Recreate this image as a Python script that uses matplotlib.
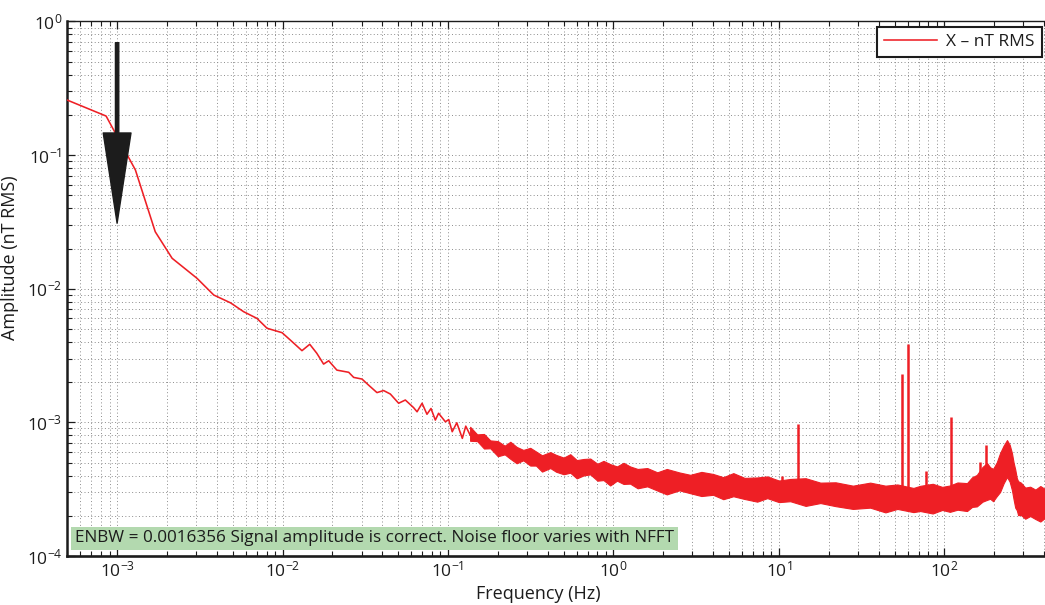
import matplotlib
matplotlib.use("Agg")
import matplotlib.pyplot as plt
import matplotlib.ticker as mticker
import numpy as np

# ---- spectrum data -------------------------------------------------------
# low-frequency part of the amplitude spectrum (Hz, nT RMS)
trace_freq = [5.0e-4, 8.58e-4, 1.29e-3, 1.70e-3, 2.15e-3, 3.04e-3, 3.84e-3,
              4.84e-3, 5.82e-3, 7.0e-3, 8.06e-3, 9.93e-3, 1.114e-2, 1.31e-2,
              1.46e-2, 1.61e-2, 1.77e-2, 1.90e-2, 2.13e-2, 2.51e-2, 2.69e-2,
              3.02e-2, 3.31e-2, 3.72e-2, 4.08e-2, 4.48e-2, 5.03e-2, 5.52e-2,
              6.19e-2, 6.50e-2, 6.97e-2, 7.46e-2, 7.89e-2, 8.38e-2, 8.77e-2,
              9.64e-2, 0.101, 0.106, 0.113, 0.122, 0.128, 0.136, 0.150, 0.164]
trace_amp = [0.258, 0.196, 0.0774, 0.0267, 0.0169, 0.01197, 8.97e-3,
             7.85e-3, 6.73e-3, 6.0e-3, 5.06e-3, 4.69e-3, 4.13e-3, 3.44e-3,
             3.84e-3, 3.29e-3, 2.73e-3, 2.89e-3, 2.46e-3, 2.37e-3, 2.17e-3,
             2.11e-3, 1.90e-3, 1.67e-3, 1.73e-3, 1.63e-3, 1.39e-3, 1.47e-3,
             1.29e-3, 1.20e-3, 1.39e-3, 1.15e-3, 1.27e-3, 1.04e-3, 1.17e-3,
             1.01e-3, 1.05e-3, 8.51e-4, 9.93e-4, 7.59e-4, 9.37e-4, 8.04e-4,
             7.80e-4, 7.16e-4]

# noise floor at higher frequencies: lower / upper extent of the trace (Hz, 1e-4 nT RMS)
band_freq = [0.136, 0.15, 0.165, 0.18, 0.2, 0.22, 0.238, 0.26, 0.285, 0.314,
             0.34, 0.37, 0.415, 0.45, 0.5, 0.548, 0.6, 0.66, 0.724, 0.8,
             0.87, 0.955, 1.05, 1.15, 1.26, 1.4, 1.6, 1.84, 2.1, 2.5,
             2.91, 3.4, 4.0, 4.61, 5.3, 6.2, 7.39, 8.5, 10.0, 11.7,
             14.5, 17.8, 22, 28, 35.6, 44, 52, 65, 71.4, 85,
             97, 108, 120, 137, 147, 157, 170, 181, 189, 197,
             207, 217, 228, 239, 248, 256, 262, 268, 274, 279,
             290, 308, 330, 355, 380, 406, 450, 500]
band_high_e4 = [9.27, 8.13, 8.19, 7.33, 7.24, 6.69, 7.16, 6.55, 6.22, 6.45,
                6.06, 5.67, 5.99, 5.71, 5.45, 5.78, 5.22, 5.32, 5.36, 4.90,
                5.15, 4.87, 4.68, 4.98, 4.68, 4.48, 4.55, 4.23, 4.48, 4.22,
                4.05, 4.26, 4.11, 3.89, 4.17, 3.84, 3.87, 3.94, 3.67, 3.77,
                3.82, 3.54, 3.56, 3.36, 3.54, 3.36, 3.43, 3.23, 3.35, 3.47,
                3.29, 3.37, 3.55, 3.51, 3.88, 4.04, 4.64, 4.96, 4.61, 4.49,
                5.00, 5.89, 6.70, 7.37, 6.80, 5.89, 5.00, 4.44, 3.82, 3.63,
                3.54, 3.25, 3.30, 3.14, 3.34, 3.17, 3.11, 3.27]
band_low_e4 = [7.28, 7.24, 6.37, 6.40, 5.58, 5.76, 5.34, 4.94, 5.20, 4.75,
               4.75, 4.28, 4.55, 4.27, 4.09, 4.20, 3.81, 4.01, 4.08, 3.66,
               3.70, 3.37, 3.66, 3.46, 3.48, 3.21, 3.32, 3.09, 2.89, 3.10,
               2.95, 2.81, 2.87, 2.66, 2.80, 2.67, 2.55, 2.71, 2.53, 2.57,
               2.37, 2.49, 2.36, 2.25, 2.30, 2.12, 2.25, 2.13, 2.17, 2.08,
               2.21, 2.14, 2.22, 2.17, 2.33, 2.35, 2.55, 2.63, 2.68, 2.57,
               2.80, 3.01, 3.50, 3.90, 3.60, 3.11, 2.65, 2.30, 2.20, 2.02,
               2.03, 1.90, 1.99, 1.89, 1.81, 1.93, 1.85, 1.91]

# discrete spectral lines (Hz, peak nT RMS)
line_freq = [10.4, 13.0, 55.3, 60.0, 77.6, 110.0, 165.0, 179.0]
line_amp = [3.98e-4, 9.7e-4, 2.29e-3, 3.83e-3, 4.32e-4, 1.10e-3, 5.02e-4, 6.76e-4]

signal_freq = 1e-3
arrow_top, arrow_tip = 0.694, 0.0309

x_ticks = [1e-3, 1e-2, 1e-1, 1e0, 1e1, 1e2]
y_ticks = [1e-4, 1e-3, 1e-2, 1e-1, 1e0]

# ---- styling --------------------------------------------------------------
plt.rcParams["font.family"] = ["Open Sans", "DejaVu Sans"]
plt.rcParams["mathtext.fontset"] = "custom"
plt.rcParams["mathtext.rm"] = "Open Sans"
plt.rcParams["mathtext.it"] = "Open Sans:italic"
plt.rcParams["mathtext.bf"] = "Open Sans:bold"
plt.rcParams["axes.unicode_minus"] = True

RED = "#ee1f25"
INK = "#1c1c1c"
BASE = 12.5

fig = plt.figure(figsize=(10.45, 6.05), dpi=100)
ax = fig.add_axes([0.0644, 0.0810, 0.950, 0.8835])

ax.set_xscale("log")
ax.set_yscale("log")
ax.set_xlim(5e-4, 500)
ax.set_ylim(1e-4, 1)
ax.set_xticks(x_ticks)
ax.set_yticks(y_ticks)
ax.xaxis.set_minor_locator(mticker.LogLocator(base=10, subs=np.arange(2, 10), numticks=20))
ax.yaxis.set_minor_locator(mticker.LogLocator(base=10, subs=np.arange(2, 10), numticks=20))
ax.xaxis.set_minor_formatter(mticker.NullFormatter())
ax.yaxis.set_minor_formatter(mticker.NullFormatter())

ax.grid(True, which="both", linestyle=(0, (1, 2.5)), color="0.55", linewidth=0.7)
ax.set_axisbelow(True)

line, = ax.plot(trace_freq, trace_amp, color=RED, linewidth=1.15, zorder=3,
                label="X \u2013 nT RMS")
band_low = np.array(band_low_e4) * 1e-4
band_high = np.array(band_high_e4) * 1e-4
ax.fill_between(band_freq, band_low, band_high, color=RED, linewidth=0.8,
                edgecolor=RED, zorder=3)
ax.vlines(line_freq, 3e-4, line_amp, color=RED, linewidth=1.8, zorder=3)

ax.annotate("", xy=(signal_freq, arrow_tip), xytext=(signal_freq, arrow_top),
            arrowprops=dict(facecolor=INK, edgecolor=INK, width=2.4,
                            headwidth=20, headlength=65, shrink=0.0),
            zorder=5)

ax.spines["left"].set_linewidth(1.8)
ax.spines["bottom"].set_linewidth(1.9)
ax.spines["top"].set_linewidth(1.0)
for side in ("left", "bottom", "top"):
    ax.spines[side].set_color(INK)
ax.tick_params(which="both", direction="in", top=True, right=True,
               labelsize=BASE, colors=INK)
ax.tick_params(which="major", length=6, width=0.9)
ax.tick_params(which="minor", length=3.5, width=0.8)

ax.set_xlabel("Frequency (Hz)", fontsize=BASE + 0.5, color=INK)
ax.set_ylabel("Amplitude (nT RMS)", fontsize=BASE + 0.5, color=INK)
ax.xaxis.set_label_coords(0.474, -0.055)
ax.yaxis.set_label_coords(-0.0487, 0.559)

leg = ax.legend(handles=[line], loc="upper right",
                bbox_to_anchor=(1041.7 / 1045, 1 - 26.7 / 605),
                bbox_transform=fig.transFigure, borderaxespad=0,
                fancybox=False, fontsize=BASE, handlelength=3.05,
                handletextpad=0.52, borderpad=0.4, framealpha=1)
leg.get_frame().set_edgecolor(INK)
leg.get_frame().set_linewidth(1.5)
for t in leg.get_texts():
    t.set_color(INK)

fig.text(75 / 1045, 1 - 538.5 / 605,
         "ENBW = 0.0016356 Signal amplitude is correct. Noise floor varies with NFFT",
         fontsize=12.3, color=INK, ha="left", va="center",
         bbox=dict(boxstyle="square,pad=0.22", facecolor="#b3d9af", edgecolor="none"))

fig.savefig("out.png", dpi=100)
